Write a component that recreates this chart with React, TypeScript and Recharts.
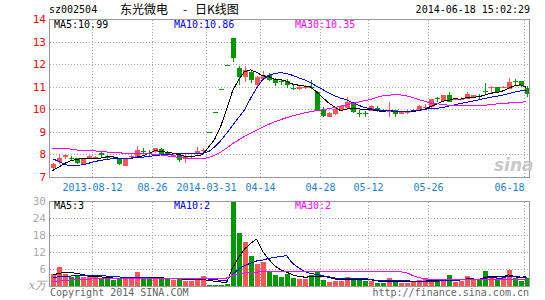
import React from "react";
import { ComposedChart, Bar, Line, XAxis, YAxis, CartesianGrid, Cell } from "recharts";

// trading days (suspended 2013-09-06 .. 2014-03-28)
const dates = [
  "2013-08-01", "2013-08-02", "2013-08-05", "2013-08-06", "2013-08-07", "2013-08-08", "2013-08-09",
  "2013-08-12", "2013-08-13", "2013-08-14", "2013-08-15", "2013-08-16",
  "2013-08-19", "2013-08-20", "2013-08-21", "2013-08-22", "2013-08-23",
  "2013-08-26", "2013-08-27", "2013-08-28", "2013-08-29", "2013-08-30",
  "2013-09-02", "2013-09-03", "2013-09-04", "2013-09-05",
  "2014-03-31", "2014-04-01", "2014-04-02", "2014-04-03", "2014-04-04",
  "2014-04-08", "2014-04-09", "2014-04-10", "2014-04-11",
  "2014-04-14", "2014-04-15", "2014-04-16", "2014-04-17", "2014-04-18",
  "2014-04-21", "2014-04-22", "2014-04-23", "2014-04-24", "2014-04-25",
  "2014-04-28", "2014-04-29", "2014-04-30",
  "2014-05-05", "2014-05-06", "2014-05-07", "2014-05-08", "2014-05-09",
  "2014-05-12", "2014-05-13", "2014-05-14", "2014-05-15", "2014-05-16",
  "2014-05-19", "2014-05-20", "2014-05-21", "2014-05-22", "2014-05-23",
  "2014-05-26", "2014-05-27", "2014-05-28", "2014-05-29", "2014-05-30",
  "2014-06-03", "2014-06-04", "2014-06-05", "2014-06-06",
  "2014-06-09", "2014-06-10", "2014-06-11", "2014-06-12", "2014-06-13",
  "2014-06-16", "2014-06-17", "2014-06-18",
];

const opens = [
  7.41, 7.68, 7.92, 7.88, 7.85, 7.58, 7.84, 7.84, 8.08, 7.96,
  7.88, 7.84, 7.53, 7.92, 7.93, 8.16, 8.10, 8.12, 8.26, 8.14,
  7.94, 7.98, 7.80, 7.92, 8.04, 8.18, 9.02, 9.92, 10.91, 12.0,
  13.2, 11.84, 11.45, 11.67, 11.11, 11.35, 11.55, 11.38, 11.28, 11.29,
  10.95, 10.93, 10.98, 11.03, 10.79, 10.05, 9.70, 9.81, 9.99, 10.10,
  10.26, 9.84, 9.86, 9.96, 10.10, 9.98, 9.90, 9.99, 9.82, 9.88,
  9.92, 9.96, 10.10, 10.11, 10.52, 10.40, 10.65, 10.46, 10.46, 10.48,
  10.56, 10.62, 10.82, 10.95, 11.00, 10.98, 10.94, 11.28, 11.27, 10.97,
];
const highs = [
  7.65, 8.05, 8.02, 7.94, 7.88, 7.84, 7.98, 7.96, 8.14, 8.00,
  7.92, 7.86, 7.88, 8.00, 8.38, 8.30, 8.20, 8.32, 8.32, 8.18,
  8.02, 8.00, 7.98, 8.00, 8.34, 8.32, 9.02, 9.92, 10.91, 12.0,
  13.2, 11.92, 11.93, 11.70, 11.50, 11.71, 11.62, 11.42, 11.35, 11.35,
  11.08, 11.05, 11.08, 11.30, 10.82, 10.12, 9.88, 10.10, 10.20, 10.55,
  10.33, 10.00, 9.96, 10.20, 10.18, 10.02, 10.33, 10.00, 9.95, 10.00,
  10.02, 10.20, 10.26, 10.50, 10.58, 10.66, 10.80, 10.52, 10.56, 10.78,
  10.66, 10.72, 11.18, 11.06, 11.02, 11.04, 11.39, 11.36, 11.28, 11.05,
];
const lows = [
  7.35, 7.62, 7.82, 7.78, 7.62, 7.56, 7.80, 7.80, 7.92, 7.84,
  7.80, 7.56, 7.50, 7.88, 7.90, 8.06, 7.96, 8.10, 8.02, 7.96,
  7.90, 7.70, 7.64, 7.88, 8.02, 8.14, 9.02, 9.92, 10.91, 12.0,
  12.12, 11.08, 11.22, 11.18, 11.00, 11.30, 11.26, 11.05, 11.12, 10.96,
  10.88, 10.86, 10.90, 10.92, 9.98, 9.70, 9.66, 9.78, 9.96, 10.08,
  9.84, 9.70, 9.66, 9.94, 9.90, 9.90, 9.68, 9.70, 9.80, 9.80,
  9.90, 9.94, 9.98, 10.10, 10.36, 10.38, 10.34, 10.42, 10.42, 10.46,
  10.54, 10.50, 10.66, 10.72, 10.76, 10.96, 10.92, 11.05, 11.03, 10.58,
];
const closes = [
  7.60, 7.88, 7.98, 7.86, 7.66, 7.80, 7.94, 7.92, 8.00, 7.88,
  7.84, 7.60, 7.86, 7.97, 8.24, 8.14, 8.08, 8.30, 8.06, 8.00,
  7.98, 7.76, 7.94, 7.96, 8.18, 8.20, 9.02, 9.92, 10.91, 12.0,
  12.30, 11.47, 11.77, 11.30, 11.45, 11.55, 11.30, 11.18, 11.22, 11.11,
  10.93, 11.03, 11.02, 11.00, 10.00, 9.73, 9.86, 10.04, 10.18, 10.33,
  9.89, 9.82, 9.82, 10.18, 9.96, 9.94, 9.94, 9.82, 9.94, 9.90,
  10.00, 10.18, 10.14, 10.48, 10.46, 10.65, 10.36, 10.50, 10.50, 10.70,
  10.64, 10.58, 10.78, 11.00, 10.77, 11.02, 11.24, 11.26, 11.05, 10.70,
];
const ma5 = [
  7.31, 7.45, 7.62, 7.74, 7.80, 7.84, 7.85, 7.84, 7.86, 7.91,
  7.92, 7.86, 7.84, 7.83, 7.90, 7.96, 8.06, 8.19, 8.16, 8.12,
  8.08, 8.02, 7.95, 7.92, 7.96, 8.01, 8.34, 8.68, 9.24, 10.01,
  10.83, 11.32, 11.69, 11.77, 11.66, 11.51, 11.47, 11.36, 11.34, 11.27,
  11.14, 11.09, 11.05, 11.01, 10.79, 10.55, 10.31, 10.13, 9.96, 10.03,
  10.06, 10.05, 9.99, 10.01, 9.97, 9.92, 9.97, 9.94, 9.92, 9.91,
  9.92, 9.97, 10.03, 10.14, 10.25, 10.38, 10.42, 10.49, 10.47, 10.54,
  10.54, 10.58, 10.64, 10.74, 10.75, 10.83, 10.96, 11.06, 11.11, 10.99,
];
const ma10 = [
  7.83, 7.72, 7.58, 7.52, 7.54, 7.56, 7.63, 7.70, 7.76, 7.80,
  7.83, 7.84, 7.85, 7.86, 7.88, 7.90, 7.93, 7.97, 8.00, 8.02,
  8.04, 8.05, 8.05, 8.05, 8.06, 8.08, 8.14, 8.35, 8.62, 8.95,
  9.30, 9.65, 10.00, 10.50, 10.95, 11.33, 11.52, 11.60, 11.65, 11.60,
  11.53, 11.42, 11.33, 11.20, 11.05, 10.90, 10.75, 10.62, 10.52, 10.45,
  10.32, 10.20, 10.10, 10.05, 10.00, 9.97, 9.95, 9.94, 9.93, 9.93,
  9.95, 9.98, 10.02, 10.05, 10.06, 10.10, 10.16, 10.22, 10.28, 10.33,
  10.38, 10.44, 10.50, 10.55, 10.60, 10.65, 10.72, 10.78, 10.84, 10.86,
];
const ma30 = [
  8.30, 8.29, 8.28, 8.26, 8.22, 8.20, 8.19, 8.18, 8.16, 8.13,
  8.11, 8.09, 8.08, 8.07, 8.07, 8.06, 8.05, 8.03, 8.00, 7.96,
  7.92, 7.90, 7.87, 7.85, 7.84, 7.84, 7.88, 7.98, 8.12, 8.30,
  8.50, 8.66, 8.82, 8.96, 9.10, 9.22, 9.35, 9.46, 9.56, 9.65,
  9.73, 9.80, 9.86, 9.92, 9.96, 10.00, 10.05, 10.10, 10.16, 10.22,
  10.28, 10.34, 10.40, 10.46, 10.55, 10.62, 10.65, 10.66, 10.66, 10.62,
  10.55, 10.45, 10.38, 10.30, 10.27, 10.24, 10.20, 10.18, 10.17, 10.17,
  10.17, 10.18, 10.20, 10.23, 10.26, 10.28, 10.30, 10.32, 10.34, 10.35,
];

// volume, 10k lots
const volumes = [
  4.4, 6.9, 4.4, 3.2, 3.9, 3.3, 3.6, 3.6, 3.1, 2.5,
  2.3, 3.1, 2.6, 3.1, 5.1, 2.7, 2.7, 3.1, 2.7, 2.7,
  2.4, 2.9, 2.0, 2.1, 2.3, 3.7, 0.6, 0.6, 0.6, 0.8,
  30, 18.8, 15.6, 10.8, 8.1, 8.5, 5.6, 4.0, 3.5, 4.5,
  3.1, 2.7, 2.7, 4.0, 5.6, 2.4, 1.7, 1.9, 2.0, 3.3,
  2.4, 2.3, 2.0, 1.9, 1.3, 1.4, 3.0, 1.5, 1.3, 1.4,
  1.8, 2.4, 2.6, 2.3, 2.0, 2.3, 3.9, 1.7, 1.8, 3.6,
  2.5, 2.5, 5.6, 3.1, 2.5, 3.2, 6.0, 3.1, 1.9, 2.9,
];
const volMa5 = [
  4.0, 4.6, 5.0, 5.0, 4.6, 4.3, 3.7, 3.5, 3.4, 3.2,
  3.0, 2.9, 2.7, 2.7, 3.2, 3.1, 3.2, 3.3, 3.3, 2.8,
  2.7, 2.8, 2.5, 2.4, 2.3, 2.6, 2.1, 1.9, 1.6, 1.3,
  6.5, 10.2, 13.2, 15.2, 16.7, 12.4, 9.7, 7.4, 5.9, 5.1,
  4.1, 3.6, 3.3, 3.4, 3.6, 3.5, 3.3, 2.7, 2.3, 2.3,
  2.3, 2.4, 2.4, 2.4, 2.0, 1.8, 1.9, 1.8, 1.7, 1.7,
  1.8, 1.7, 1.9, 2.1, 2.2, 2.3, 2.6, 2.4, 2.3, 2.7,
  2.7, 2.4, 3.2, 3.5, 3.4, 3.4, 4.1, 3.6, 3.3, 3.4,
];
const volMa10 = [
  3.2, 3.4, 3.6, 3.7, 3.8, 3.8, 3.8, 3.8, 3.8, 3.7,
  3.6, 3.4, 3.2, 3.1, 3.2, 3.1, 3.0, 3.0, 3.0, 3.0,
  2.9, 2.9, 2.9, 2.8, 2.8, 2.9, 2.6, 2.4, 2.2, 2.0,
  4.3, 6.0, 7.4, 8.2, 9.0, 9.3, 9.9, 10.3, 10.6, 10.9,
  8.2, 6.6, 5.3, 4.6, 4.3, 3.8, 3.5, 3.0, 2.8, 2.9,
  2.9, 2.9, 2.8, 2.5, 2.1, 2.1, 2.2, 2.1, 2.0, 2.0,
  1.9, 1.8, 1.9, 1.9, 1.9, 2.0, 2.2, 2.2, 2.3, 2.5,
  2.5, 2.3, 2.9, 3.1, 3.0, 3.0, 3.7, 3.4, 3.2, 3.3,
];
const volMa30 = [
  1.6, 1.9, 2.1, 2.3, 2.4, 2.5, 2.6, 2.7, 2.8, 2.9,
  2.9, 3.0, 3.0, 3.0, 3.0, 3.0, 3.0, 3.0, 3.0, 3.0,
  3.0, 3.0, 3.0, 3.0, 3.0, 3.0, 3.0, 3.0, 3.0, 3.0,
  3.9, 4.4, 4.8, 5.0, 5.1, 5.2, 5.2, 5.2, 5.2, 5.2,
  5.2, 5.2, 5.2, 5.2, 5.2, 5.2, 5.2, 5.2, 5.2, 5.2,
  5.2, 5.2, 5.2, 5.2, 5.2, 5.2, 5.2, 5.2, 5.2, 4.9,
  3.9, 3.2, 2.7, 2.6, 2.5, 2.5, 2.5, 2.5, 2.5, 2.5,
  2.5, 2.5, 2.5, 2.5, 2.5, 2.5, 2.5, 2.5, 2.5, 2.5,
];

const tickDates = ["2013-08-12", "2013-08-26", "2014-03-31", "2014-04-14", "2014-04-28", "2014-05-12", "2014-05-26", "2014-06-18"];
const tickLabels = ["2013-08-12", "08-26", "2014-03-31", "04-14", "04-28", "05-12", "05-26", "06-18"];
const priceTicks = [7, 8, 9, 10, 11, 12, 13, 14];
const volTicks = [0, 6, 12, 18, 24, 30];

const RED = "#ff5555";
const GREEN = "#009900";
const MONO = '"DejaVu Sans Mono", monospace';

const data = dates.map((date, i) => ({
  date,
  open: opens[i],
  high: highs[i],
  low: lows[i],
  close: closes[i],
  range: [lows[i], highs[i] === lows[i] ? highs[i] + 0.001 : highs[i]],
  ma5: ma5[i],
  ma10: ma10[i],
  ma30: ma30[i],
  vol: volumes[i],
  vma5: volMa5[i],
  vma10: volMa10[i],
  vma30: volMa30[i],
}));

const upColor = (d) => (d.close > d.open ? RED : GREEN);

const Candle = (props) => {
  const { x, y, width, height, payload } = props;
  if (x == null || y == null) return null;
  const top = Math.min(y, y + height);
  const bottom = Math.max(y, y + height);
  const span = payload.high - payload.low;
  const toY = (v) => (span === 0 ? top : top + ((payload.high - v) / span) * (bottom - top));
  const color = upColor(payload);
  const bx = Math.round(x);
  const bw = Math.round(width);
  const cx = bx + Math.floor(bw / 2);
  const yo = toY(payload.open);
  const yc = toY(payload.close);
  const bTop = Math.round(Math.min(yo, yc));
  const bBot = Math.round(Math.max(yo, yc));
  return (
    <g>
      <rect x={cx} y={Math.round(top)} width={1} height={Math.max(1, Math.round(bottom) - Math.round(top))} fill={color} />
      <rect x={bx} y={bTop} width={bw} height={Math.max(1, bBot - bTop)} fill={color} />
    </g>
  );
};

const gridX = ({ xAxis, offset }) => {
  const sc = xAxis && xAxis.scale;
  return tickDates.map((d) => {
    if (typeof sc === "function") {
      const v = sc(d);
      if (Number.isFinite(v)) return v + 1;
    }
    return offset.left + (offset.width * dates.indexOf(d)) / dates.length + 1;
  });
};

const DateTick = ({ x, y, payload }) => {
  const idx = tickDates.indexOf(payload.value);
  if (idx < 0) return null;
  const half = payload.offset != null ? payload.offset : 3;
  const gx = x - half + 1;
  const last = idx === tickDates.length - 1;
  return (
    <text x={gx} y={y + 13} textAnchor={last ? "end" : "middle"} fill="#1a7fd4" fontSize={10} fontFamily={MONO}>
      {tickLabels[idx]}
    </text>
  );
};

const PriceTick = ({ x, y, payload }) => (
  <text x={x - 3.5} y={y} textAnchor="end" dominantBaseline="central" fill="#ff0000" fontSize={11} fontFamily={MONO}>
    {payload.value}
  </text>
);

const VolTick = ({ x, y, payload }) =>
  payload.value === 0 ? (
    <text x={x - 3.5} y={y - 1} textAnchor="end" dominantBaseline="central" fill="#999" fontSize={11} fontStyle="italic" fontFamily='"DejaVu Serif", serif'>
      x万
    </text>
  ) : (
    <text x={x - 3.5} y={y} textAnchor="end" dominantBaseline="central" fill="#aaa" fontSize={11} fontFamily={MONO}>
      {payload.value}
    </text>
  );

const txt = { fontFamily: MONO, fontSize: 10 };

export default function App() {
  return (
    <div style={{ position: "absolute", left: 0, top: 0, width: 545, height: 300, background: "#fff" }}>
      <div style={{ position: "absolute", left: 0, top: 0 }}>
        <ComposedChart width={545} height={300} data={data} margin={{ top: 201.5, right: 15.5, bottom: 13.5, left: 0.5 }} style={{ shapeRendering: "crispEdges" }}>
          <CartesianGrid stroke="#aaa" strokeDasharray="1 2" verticalCoordinatesGenerator={gridX} />
          <XAxis dataKey="date" hide />
          <YAxis domain={[0, 30]} ticks={volTicks} interval={0} width={49} axisLine={false} tickLine={false} tickSize={0} tickMargin={0} tick={<VolTick />} />
          <Bar dataKey="vol" barSize={5} isAnimationActive={false}>
            {data.map((d, i) => (
              <Cell key={`v-${i}`} fill={upColor(d)} />
            ))}
          </Bar>
          <Line dataKey="vma5" stroke="#000" strokeWidth={1} dot={false} isAnimationActive={false} />
          <Line dataKey="vma10" stroke="#0000ff" strokeWidth={1} dot={false} isAnimationActive={false} />
          <Line dataKey="vma30" stroke="#ff00ff" strokeWidth={1} dot={false} isAnimationActive={false} />
        </ComposedChart>
      </div>
      <div style={{ position: "absolute", left: 0, top: 0 }}>
        <ComposedChart width={545} height={196} data={data} margin={{ top: 19.5, right: 15.5, bottom: 0, left: 0.5 }} style={{ shapeRendering: "crispEdges" }}>
          <CartesianGrid stroke="#aaa" strokeDasharray="1 2" verticalCoordinatesGenerator={gridX} />
          <XAxis dataKey="date" ticks={tickDates} interval={0} height={18.5} axisLine={false} tickLine={false} tickSize={0} tickMargin={0} tick={<DateTick />} />
          <YAxis domain={[7, 14]} ticks={priceTicks} interval={0} width={49} axisLine={false} tickLine={false} tickSize={0} tickMargin={0} tick={<PriceTick />} />
          <Bar dataKey="range" barSize={5} shape={<Candle />} isAnimationActive={false} />
          <Line dataKey="ma5" stroke="#000" strokeWidth={1} dot={false} isAnimationActive={false} />
          <Line dataKey="ma10" stroke="#0000ff" strokeWidth={1} dot={false} isAnimationActive={false} />
          <Line dataKey="ma30" stroke="#ff00ff" strokeWidth={1} dot={false} isAnimationActive={false} />
        </ComposedChart>
      </div>
      <svg width={545} height={300} style={{ position: "absolute", left: 0, top: 0, pointerEvents: "none" }}>
        <rect x={49.5} y={19.5} width={480} height={158} fill="none" stroke="#999" shapeRendering="crispEdges" />
        <rect x={49.5} y={201.5} width={480} height={85} fill="none" stroke="#999" shapeRendering="crispEdges" />
        <text x={49} y={13} fill="#000" {...txt}>sz002504</text>
        <text x={120} y={14} fill="#000" fontSize={12} fontFamily='"Noto Sans CJK SC", sans-serif'>东光微电</text>
        <text x={183} y={14} fill="#000" fontSize={12} fontFamily='"Noto Sans CJK SC", sans-serif'>-</text>
        <text x={195} y={14} fill="#000" fontSize={12} fontFamily='"Noto Sans CJK SC", sans-serif'>日K线图</text>
        <text x={530} y={13} textAnchor="end" fill="#000" {...txt}>2014-06-18 15:02:29</text>
        <text x={54} y={28} fill="#000" {...txt}>MA5:10.99</text>
        <text x={174} y={28} fill="#0000ff" {...txt}>MA10:10.86</text>
        <text x={295} y={28} fill="#ff00ff" {...txt}>MA30:10.35</text>
        <text x={54} y={209} fill="#000" {...txt}>MA5:3</text>
        <text x={174} y={209} fill="#0000ff" {...txt}>MA10:2</text>
        <text x={295} y={209} fill="#ff00ff" {...txt}>MA30:2</text>
        <text x={494} y={171} fill="#c8c8c8" fontSize={17} fontWeight="bold" fontStyle="italic" fontFamily='"DejaVu Sans", sans-serif'>sina</text>
        <text x={50} y={296} fill="#666" {...txt}>Copyright 2014 SINA.COM</text>
        <text x={529} y={296} textAnchor="end" fill="#666" {...txt}>http://finance.sina.com.cn</text>
      </svg>
    </div>
  );
}
